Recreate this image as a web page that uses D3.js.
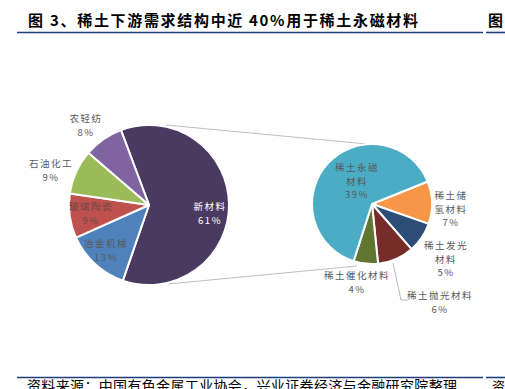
<!DOCTYPE html>
<html><head><meta charset="utf-8">
<script src="https://cdn.jsdelivr.net/npm/d3@7"></script>
<style>body{margin:0;background:#fff;}svg{display:block;}</style>
</head><body>
<svg id="c" width="505" height="389"></svg>
<script>
const mainCategories = ["新材料","冶金机械","玻璃陶瓷","石油化工","农轻纺"];
const mainValues = [61,13,9,9,8];
const mainColors = ["#4A3A61","#4F81BD","#C0504D","#9BBB59","#8064A2"];
const subCategories = ["稀土储氢材料","稀土发光材料","稀土抛光材料","稀土催化材料","稀土永磁材料"];
const subValues = [7,5,6,4,39];
const subColors = ["#F79646","#2C4D75","#772C2A","#5F7530","#4BACC6"];
const titleNo = "图";
const titleText = "3、稀土下游需求结构中近 40%用于稀土永磁材料";
const sourceText = "资料来源：中国有色金属工业协会，兴业证券经济与金融研究院整理";

const svg = d3.select("#c");
const font = "'Noto Sans CJK SC', sans-serif";
const deg = Math.PI/180;

// header
svg.append("text").attr("x",28).attr("y",26).attr("font-family",font).attr("font-weight","bold")
  .attr("font-size",15).attr("fill","#000").text(titleNo);
svg.append("text").attr("x",50).attr("y",26).attr("font-family",font).attr("font-weight","bold")
  .attr("font-size",15).attr("fill","#000").attr("textLength",368).attr("lengthAdjust","spacing").text(titleText);
svg.append("text").attr("x",488).attr("y",26).attr("font-family",font).attr("font-weight","bold")
  .attr("font-size",15).attr("fill","#000").text("图");
const rule = "#1F3C7B";
svg.append("line").attr("x1",17).attr("x2",483).attr("y1",32.5).attr("y2",32.5).attr("stroke",rule).attr("stroke-width",1.6);
svg.append("line").attr("x1",486).attr("x2",505).attr("y1",32.5).attr("y2",32.5).attr("stroke",rule).attr("stroke-width",1.6);
svg.append("line").attr("x1",17).attr("x2",483).attr("y1",377.5).attr("y2",377.5).attr("stroke",rule).attr("stroke-width",1.6);
svg.append("line").attr("x1",486).attr("x2",505).attr("y1",377.5).attr("y2",377.5).attr("stroke",rule).attr("stroke-width",1.6);
svg.append("text").attr("x",27).attr("y",391).attr("font-family",font).attr("font-size",14).attr("fill","#000")
  .attr("textLength",430).attr("lengthAdjust","spacing").text(sourceText);
svg.append("text").attr("x",492).attr("y",391).attr("font-family",font).attr("font-size",13).attr("fill","#000").text("资");

// connectors
const mc = [149,205], mr = 80;
const sc = [372,204], sr = 60;
svg.append("line").attr("x1",166).attr("y1",125).attr("x2",sc[0]-5).attr("y2",sc[1]-sr).attr("stroke","#bfbfbf").attr("stroke-width",1);
svg.append("line").attr("x1",168).attr("y1",284).attr("x2",sc[0]-15).attr("y2",sc[1]+sr+2).attr("stroke","#bfbfbf").attr("stroke-width",1);

// main pie
const mainPie = d3.pie().sort(null).startAngle(-20.5*deg).endAngle(339.5*deg);
const mainArcs = mainPie(mainValues);
const arcM = d3.arc().innerRadius(0).outerRadius(mr);
const gM = svg.append("g").attr("transform",`translate(${mc})`);
gM.selectAll("path").data(mainArcs).join("path").attr("d",arcM)
  .attr("fill",(d,i)=>mainColors[i]).attr("stroke","#fff").attr("stroke-width",2).attr("stroke-linejoin","round");

// sub pie
const subPie = d3.pie().sort(null).startAngle(68*deg).endAngle(428*deg);
const subArcs = subPie(subValues);
const arcS = d3.arc().innerRadius(0).outerRadius(sr);
const gS = svg.append("g").attr("transform",`translate(${sc})`);
gS.selectAll("path").data(subArcs).join("path").attr("d",arcS)
  .attr("fill",(d,i)=>subColors[i]).attr("stroke","#fff").attr("stroke-width",2).attr("stroke-linejoin","round");

// leader line for 抛光
svg.append("polyline").attr("points","393,263 401,300 408,300").attr("fill","none").attr("stroke","#a6a6a6").attr("stroke-width",0.8);

// labels
function label(lines, x, y, color){
  const t = svg.append("text").attr("font-family",font).attr("font-size",9.5).attr("fill",color)
    .attr("text-anchor","middle").attr("letter-spacing",1.5);
  lines.forEach((l,i)=>t.append("tspan").attr("x",x).attr("y",y+i*13.5).text(l));
}
const gray = "#595959";
label([mainCategories[4], mainValues[4]+"%"], 86, 122, gray);
label([mainCategories[3], mainValues[3]+"%"], 51, 167, gray);
label([mainCategories[2], mainValues[2]+"%"], 91, 210, "#6b4a4a");
label([mainCategories[1], mainValues[1]+"%"], 106, 247, gray);
label([mainCategories[0], mainValues[0]+"%"], 210, 210, "#ffffff");
label(["稀土永磁","材料", subValues[4]+"%"], 357, 171, gray);
label(["稀土储","氢材料", subValues[0]+"%"], 451, 199, gray);
label(["稀土发光","材料", subValues[1]+"%"], 446, 249, gray);
label([subCategories[2], subValues[2]+"%"], 440, 299, gray);
label([subCategories[3], subValues[3]+"%"], 357, 279, gray);
</script>
</body></html>
